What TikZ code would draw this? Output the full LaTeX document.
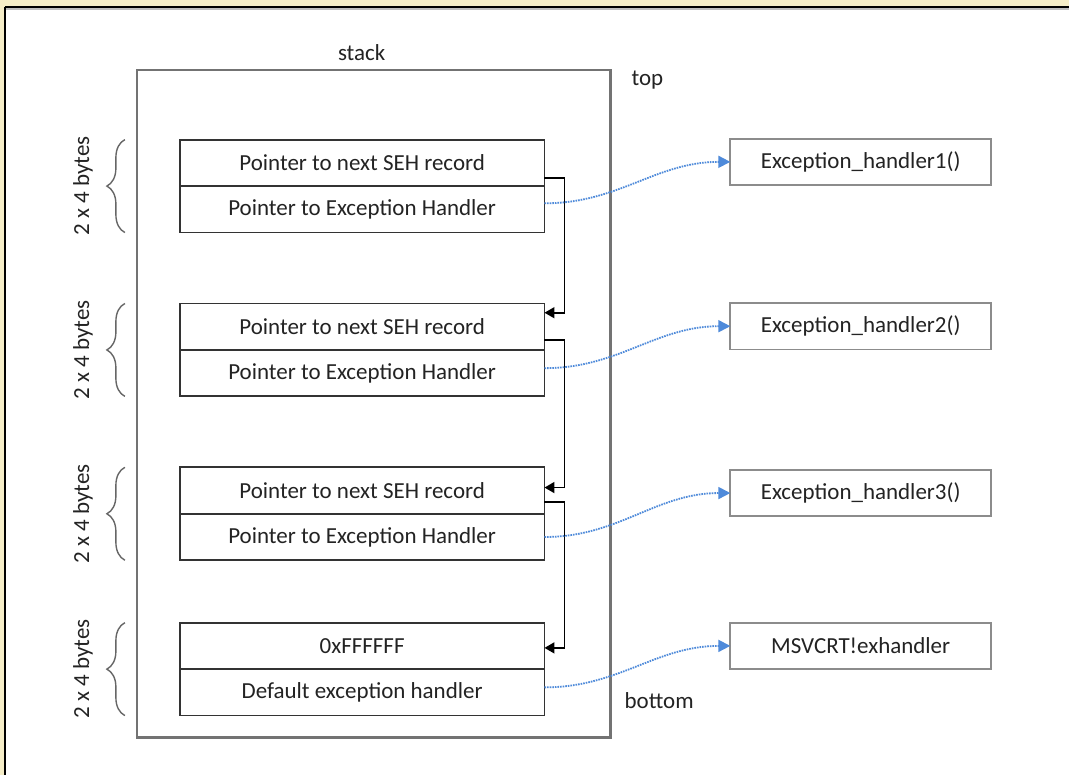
\documentclass[tikz,border=0pt]{standalone}
\usepackage{fontspec}
\setmainfont{Carlito}
\usetikzlibrary{arrows.meta, positioning, calc, decorations.pathreplacing}
\definecolor{frameyellow}{RGB}{246,238,200}
\definecolor{txtgrey}{RGB}{35,35,35}
\definecolor{linkblue}{RGB}{78,138,218}
\tikzset{
  field/.style={draw=black!80, line width=1.8pt, outer sep=0pt, inner sep=0pt,
    minimum width=365pt, minimum height=46.5pt, text=txtgrey, font=\fontsize{23}{27}\selectfont},
  handlerbox/.style={draw=black!45, line width=1.8pt, outer sep=0pt, inner sep=0pt,
    minimum width=261pt, minimum height=46.5pt, text=txtgrey, font=\fontsize{23}{27}\selectfont},
  plain/.style={text=txtgrey, font=\fontsize{23}{27}\selectfont, inner sep=0pt},
  nextlink/.style={black, line width=1.8pt, -{Triangle[length=10pt,width=11pt]}},
  hdllink/.style={linkblue, dash pattern=on 1.6pt off 1pt, line width=1.8pt, -{Triangle[length=12pt,width=12pt]}},
  sizebrace/.style={black!60, line width=1.4pt, decorate, decoration={brace, amplitude=18pt, aspect=0.5}}
}
\begin{document}
\begin{tikzpicture}[x=1pt, y=-1pt]
% frame of the screenshot
\fill[frameyellow] (0,0) rectangle (1070,776);
\fill[white] (5,7) rectangle (1070,776);
\draw[black!25, line width=1.5pt] (6,9) -- (1070,9);
\draw[black, line width=2pt] (5,7) -- (1070,7);
\draw[black, line width=2pt] (5,7) -- (5,776);
\useasboundingbox (0,0) rectangle (1070,776);

% stack
\node[draw=black!55, line width=2.4pt, minimum width=474pt, minimum height=668pt, inner sep=0pt] (stack) at (374,404) {};
\node[plain] (stacklbl) at (362,53) {stack};
\node[plain, anchor=west] (toplbl) at (632,80) {top};
\node[plain, anchor=west] (bottomlbl) at (625,701) {bottom};

% SEH records
\node[field] (next1) at (362.5,163) {Pointer to next SEH record};
\node[field, below=0pt of next1] (hdl1) {Pointer to Exception Handler};
\node[field] (next2) at (362.5,327) {Pointer to next SEH record};
\node[field, below=0pt of next2] (hdl2) {Pointer to Exception Handler};
\node[field] (next3) at (362.5,491) {Pointer to next SEH record};
\node[field, below=0pt of next3] (hdl3) {Pointer to Exception Handler};
\node[field] (next4) at (362.5,646.5) {0xFFFFFF};
\node[field, below=0pt of next4] (hdl4) {Default exception handler};

% handler functions
\node[handlerbox] (func1) at (861.5,162) {Exception\_handler1()};
\node[handlerbox] (func2) at (861.5,326.5) {Exception\_handler2()};
\node[handlerbox] (func3) at (861.5,493.5) {Exception\_handler3()};
\node[handlerbox] (func4) at (861.5,646.5) {MSVCRT!exhandler};

% chain of next pointers
\draw[nextlink] ([yshift=8pt]hdl1.north east) -- ++(20,0) |- ([yshift=14pt]next2.east);
\draw[nextlink] ([yshift=10pt]hdl2.north east) -- ++(20,0) |- ([yshift=3pt]next3.east);
\draw[nextlink] ([yshift=12pt]hdl3.north east) -- ++(20,0) |- ([yshift=-2pt]next4.east);

% handler pointers
\draw[hdllink] ([yshift=6pt]hdl1.east) to[out=0, in=180] (func1.west);
\draw[hdllink] ([yshift=5pt]hdl2.east) to[out=0, in=180] (func2.west);
\draw[hdllink] (hdl3.east) to[out=0, in=180] (func3.west);
\draw[hdllink] ([yshift=5pt]hdl4.east) to[out=0, in=180] (func4.west);

% record sizes
\foreach \i in {1,...,4} {
  \draw[sizebrace] ([xshift=-55pt]hdl\i.south west) -- ([xshift=-55pt]next\i.north west);
  \node[plain, rotate=90] (size\i) at ($(next\i.south west)+(-97,0)$) {2 x 4 bytes};
}
\end{tikzpicture}
\end{document}
